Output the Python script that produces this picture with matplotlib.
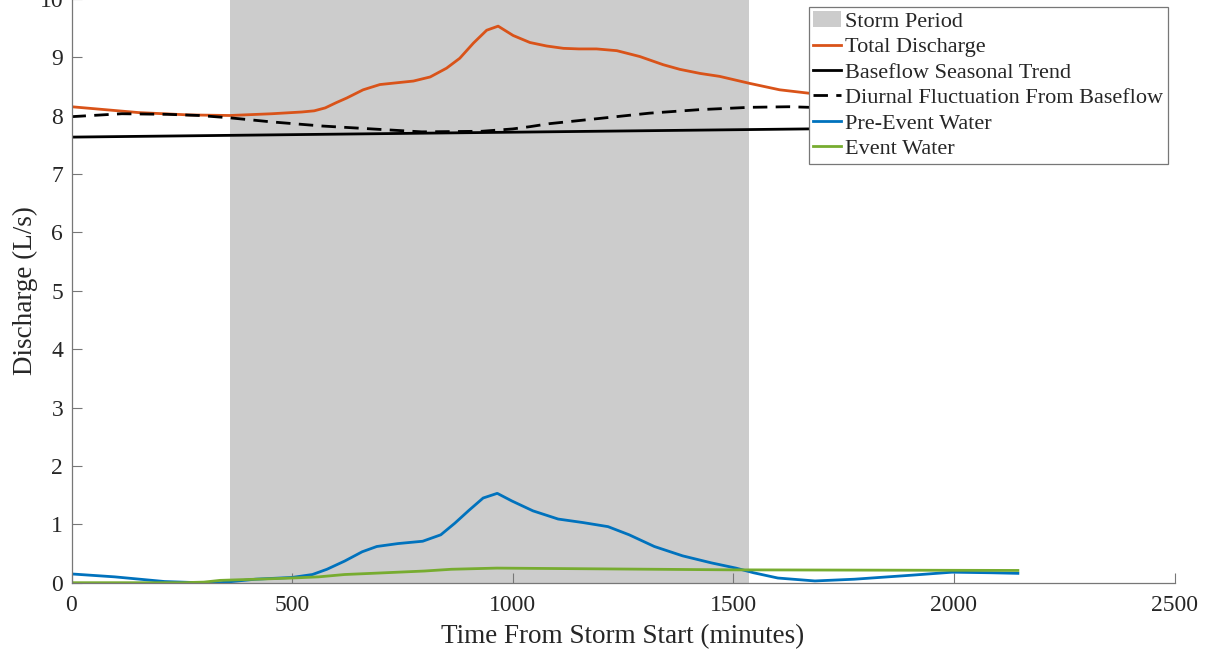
import matplotlib
matplotlib.use("Agg")
import matplotlib.pyplot as plt
from matplotlib.patches import Patch
from matplotlib.lines import Line2D

plt.rcParams["font.family"] = ["Liberation Serif", "DejaVu Serif"]

# Storm window (minutes from storm start)
storm_start = 360
storm_end = 1535

# Total discharge (L/s)
total_t = [0, 152, 266, 359, 454, 522, 550, 575, 600, 624, 661, 699, 737, 775,
           813, 850, 880, 911, 941, 967, 1001, 1039, 1077, 1115, 1150, 1190,
           1236, 1288, 1341, 1379, 1425, 1469, 1537, 1605, 1673, 1800, 2000, 2140]
total_q = [8.15, 8.05, 8.01, 8.00, 8.03, 8.06, 8.08, 8.13, 8.22, 8.30, 8.44,
           8.53, 8.56, 8.59, 8.66, 8.81, 8.98, 9.24, 9.46, 9.53, 9.37, 9.25,
           9.19, 9.15, 9.14, 9.14, 9.11, 9.01, 8.87, 8.79, 8.72, 8.67, 8.55,
           8.44, 8.38, 8.28, 8.18, 8.06]

# Baseflow seasonal trend (L/s)
base_t = [0, 2140]
base_q = [7.63, 7.81]

# Diurnal fluctuation about the baseflow (L/s)
diurnal_t = [0, 114, 218, 290, 359, 454, 568, 681, 794, 930, 1000, 1040, 1083,
             1197, 1310, 1423, 1537, 1627, 1673, 1800, 2000, 2140]
diurnal_q = [7.98, 8.03, 8.02, 8.00, 7.96, 7.89, 7.82, 7.77, 7.72, 7.73, 7.77,
             7.81, 7.86, 7.95, 8.04, 8.10, 8.14, 8.15, 8.14, 8.10, 7.98, 7.88]

# Pre-event water (L/s)
pre_t = [0, 98, 211, 289, 337, 417, 500, 546, 579, 619, 659, 692, 740, 796, 837,
         869, 901, 933, 965, 998, 1046, 1103, 1159, 1216, 1264, 1321, 1385,
         1450, 1506, 1546, 1601, 1685, 1775, 1907, 1996, 2085, 2145]
pre_q = [0.15, 0.10, 0.02, 0.00, 0.00, 0.06, 0.09, 0.14, 0.23, 0.37, 0.53, 0.62,
         0.67, 0.71, 0.82, 1.02, 1.24, 1.45, 1.53, 1.40, 1.23, 1.09, 1.03, 0.96,
         0.82, 0.62, 0.46, 0.34, 0.25, 0.17, 0.08, 0.03, 0.06, 0.13, 0.18, 0.17,
         0.16]

# Event water (L/s)
event_t = [0, 250, 300, 337, 420, 500, 560, 619, 680, 740, 800, 861, 964, 1143,
           1500, 2145]
event_q = [0.00, 0.00, 0.01, 0.04, 0.06, 0.08, 0.10, 0.14, 0.16, 0.18, 0.20,
           0.23, 0.25, 0.24, 0.22, 0.21]

c_total = "#D95319"
c_pre = "#0072BD"
c_event = "#77AC30"
c_shade = "#CCCCCC"
c_axis = "#777777"
c_text = "#262626"

fig = plt.figure(figsize=(12.14, 6.56), dpi=100)
ax = fig.add_axes([71.5 / 1214, 73.3 / 656, 1103 / 1214, 584 / 656])

lw = 2.0
dash = (0, (5.2, 3.0))
ax.axvspan(storm_start, storm_end, color=c_shade, lw=0, zorder=1)
ax.plot(total_t, total_q, color=c_total, lw=lw, zorder=3)
ax.plot(base_t, base_q, color="black", lw=lw, zorder=3)
ax.plot(diurnal_t, diurnal_q, color="black", lw=lw, ls=dash, zorder=3)
ax.plot(pre_t, pre_q, color=c_pre, lw=lw, zorder=3)
ax.plot(event_t, event_q, color=c_event, lw=lw, zorder=3)

ax.set_xlim(0, 2500)
ax.set_ylim(0, 10)
ax.set_xticks(range(0, 2501, 500))
ax.set_yticks(range(0, 11))

for side in ("top", "right"):
    ax.spines[side].set_visible(False)
for side in ("left", "bottom"):
    ax.spines[side].set_color(c_axis)
    ax.spines[side].set_linewidth(0.9)
    ax.spines[side].set_zorder(4)

ax.tick_params(direction="in", length=7, width=0.8, color=c_axis,
               labelsize=17, labelcolor=c_text, pad=6)
ax.tick_params(axis="x", pad=8.5)

ax.set_xlabel("Time From Storm Start (minutes)", fontsize=19.5, color=c_text,
              labelpad=6)
ax.set_ylabel("Discharge (L/s)", fontsize=19.5, color=c_text, labelpad=1)

handles = [
    Patch(facecolor=c_shade, edgecolor="none"),
    Line2D([], [], color=c_total, lw=lw),
    Line2D([], [], color="black", lw=lw),
    Line2D([], [], color="black", lw=lw, ls=dash),
    Line2D([], [], color=c_pre, lw=lw),
    Line2D([], [], color=c_event, lw=lw),
]
labels = ["Storm Period", "Total Discharge", "Baseflow Seasonal Trend",
          "Diurnal Fluctuation From Baseflow", "Pre-Event Water", "Event Water"]
leg = ax.legend(handles, labels, loc="upper right",
                bbox_to_anchor=(0.994, 0.986), borderaxespad=0,
                fontsize=16, frameon=True, fancybox=False, framealpha=1,
                edgecolor=c_axis, handlelength=1.25, handletextpad=0.2,
                labelspacing=0.22, borderpad=0.2)
leg.get_frame().set_linewidth(0.9)
leg.set_zorder(5)
for t in leg.get_texts():
    t.set_color(c_text)

fig.savefig("out.png", dpi=100)
